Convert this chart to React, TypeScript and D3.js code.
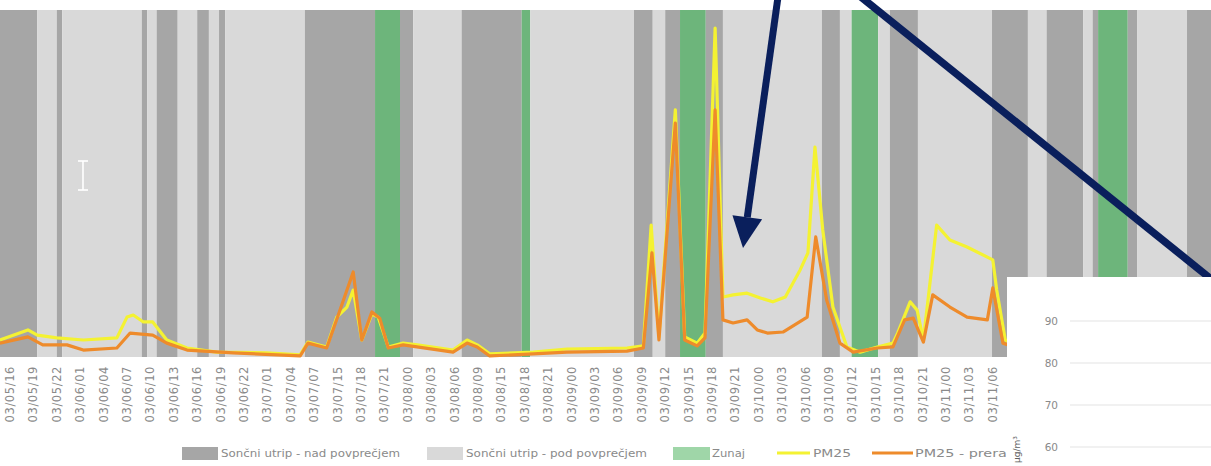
import React from "react";
import * as d3 from "d3";

// ---------- DATA ----------
const xLabels = [
  "03/05/16", "03/05/19", "03/05/22", "03/06/01", "03/06/04", "03/06/07", "03/06/10",
  "03/06/13", "03/06/16", "03/06/19", "03/06/22", "03/07/01", "03/07/04", "03/07/07",
  "03/07/15", "03/07/18", "03/07/21", "03/08/00", "03/08/03", "03/08/06", "03/08/09",
  "03/08/15", "03/08/18", "03/08/21", "03/09/00", "03/09/03", "03/09/06", "03/09/09",
  "03/09/12", "03/09/15", "03/09/18", "03/09/21", "03/10/00", "03/10/03", "03/10/06",
  "03/10/09", "03/10/12", "03/10/15", "03/10/18", "03/10/21", "03/11/00", "03/11/03",
  "03/11/06",
];

// band edges in hours (label every 3 hours)
const bandEdges = [
  -1.5, 3.5, 6.0, 6.7, 16.9, 17.6, 18.8, 21.5, 24.0, 25.5, 26.8, 27.6, 37.8, 46.8, 50.0,
  51.7, 57.9, 65.6, 66.7, 80.0, 82.4, 84.0, 85.9, 89.2, 91.4, 104.1, 106.4, 107.9, 111.3,
  112.8, 116.4, 125.9, 130.5, 132.9, 137.6, 138.8, 139.5, 143.3, 144.5, 150.9, 156,
];
// d = nad povprečjem, l = pod povprečjem, g = zunaj
const bandTypes = [
  "d", "l", "d", "l", "d", "l", "d", "l", "d", "l",
  "d", "l", "d", "g", "d", "l", "d", "g", "l", "d",
  "l", "d", "g", "d", "l", "d", "l", "g", "l", "d",
  "l", "d", "l", "d", "l", "d", "g", "d", "l", "d",
];

const pm25: [number, number][] = [
  [-1.3, 4.9], [2.3, 7.8], [3.5, 6.3], [6.0, 5.5], [9.4, 4.9], [13.7, 5.5], [15.0, 11.5],
  [15.8, 12.1], [17.1, 10.1], [18.3, 10.1], [20.1, 4.9], [22.7, 2.6], [26.5, 1.4],
  [32.9, 1.2], [37.2, 0.6], [38.2, 4.3], [40.6, 2.9], [41.9, 11.5], [43.2, 14.4],
  [44.0, 19.3], [45.1, 4.9], [46.4, 12.4], [47.2, 11.5], [48.5, 2.9], [50.4, 4.0],
  [52.2, 3.5], [56.8, 2.0], [58.6, 4.9], [59.9, 3.5], [61.5, 0.9], [67.1, 1.4],
  [71.4, 2.3], [79.1, 2.6], [81.2, 3.2], [82.2, 38.0], [83.2, 5.8], [85.3, 71.2],
  [86.5, 5.8], [88.1, 4.0], [89.1, 6.9], [90.4, 94.8], [91.4, 17.3], [92.7, 17.9],
  [94.5, 18.4], [96.2, 17.0], [97.8, 15.9], [99.4, 17.3], [101.3, 25.1], [102.3, 30.0],
  [103.2, 60.5], [104.2, 36.6], [105.5, 14.4], [107.3, 2.9], [109.0, 1.4], [111.2, 2.9],
  [113.2, 4.0], [113.8, 6.9], [115.4, 15.9], [116.3, 13.5], [117.1, 4.9], [118.8, 38.0],
  [120.5, 33.7], [122.7, 31.7], [126.0, 28.0], [126.5, 19.3], [127.6, 4.9], [128.8, 3.5],
];

const pm25Corr: [number, number][] = [
  [-1.3, 4.0], [2.3, 5.8], [4.2, 3.5], [7.3, 3.5], [9.4, 2.0], [13.7, 2.6], [15.4, 6.9],
  [18.3, 6.3], [20.1, 4.0], [22.7, 2.0], [28.6, 1.2], [37.2, 0.3], [38.2, 4.0],
  [40.6, 2.6], [42.3, 13.5], [44.0, 24.5], [45.1, 4.9], [46.4, 13.0], [47.4, 11.2],
  [48.5, 2.6], [50.4, 3.5], [56.8, 1.4], [58.6, 4.0], [59.9, 2.9], [61.5, 0.3],
  [67.1, 0.9], [71.4, 1.4], [79.1, 1.7], [81.2, 2.6], [82.3, 30.0], [83.2, 4.9],
  [85.3, 67.4], [86.5, 4.9], [88.1, 3.2], [89.1, 5.5], [90.4, 71.2], [91.4, 10.7],
  [92.7, 9.8], [94.5, 10.7], [95.8, 7.8], [97.1, 6.9], [99.1, 7.2], [102.2, 11.5],
  [103.3, 34.6], [104.7, 16.4], [106.4, 4.0], [108.1, 1.4], [111.2, 2.6], [113.2, 2.9],
  [114.7, 10.7], [115.8, 11.2], [117.1, 4.3], [118.3, 17.9], [120.5, 14.4], [122.7, 11.5],
  [125.3, 10.7], [126.0, 19.9], [127.3, 4.0], [128.8, 2.9],
];

const legendLabels = [
  "Sončni utrip - nad povprečjem",
  "Sončni utrip - pod povprečjem",
  "Zunaj",
  "PM25",
  "PM25 - preračun",
];

const insetTicks = [60, 70, 80, 90];

// ---------- STYLE ----------
const W = 1211;
const H = 466;
const C_DARK = "#a6a6a6";
const C_LIGHT = "#d9d9d9";
const C_GREEN = "#6db57b";
const C_YELLOW = "#f4f232";
const C_ORANGE = "#ee8b2b";
const C_NAVY = "#0a1f5c";
const C_TEXT = "#8a8a8a";
const FONT = "'DejaVu Sans', 'Liberation Sans', sans-serif";

export default function App() {
  const x = d3.scaleLinear().domain([0, 126]).range([10, 10 + 126 * 7.8]);
  const y = d3.scaleLinear().domain([0, 100]).range([357, 10]);
  const yInset = d3.scaleLinear().domain([60, 90]).range([447, 321]);

  const line = d3
    .line<[number, number]>()
    .x((d) => x(d[0]))
    .y((d) => y(d[1]))
    .curve(d3.curveLinear);

  const colorOf = (t: string) => (t === "d" ? C_DARK : t === "l" ? C_LIGHT : C_GREEN);

  // arrow 1 geometry
  const a1Start: [number, number] = [778, -3];
  const a1Tip: [number, number] = [743, 248];
  const dx = a1Tip[0] - a1Start[0];
  const dy = a1Tip[1] - a1Start[1];
  const len = Math.hypot(dx, dy);
  const ux = dx / len, uy = dy / len;
  const headL = 31, headW = 15;
  const bx = a1Tip[0] - ux * headL, by = a1Tip[1] - uy * headL;
  const head = `${a1Tip[0]},${a1Tip[1]} ${bx - uy * headW},${by + ux * headW} ${bx + uy * headW},${by - ux * headW}`;

  return (
    <svg
      width={W}
      height={H}
      style={{ position: "absolute", left: 0, top: 0, background: "#fff" }}
      fontFamily={FONT}
    >
      <rect x={0} y={0} width={W} height={H} fill="#fff" />
      {/* background bands */}
      <g>
        {bandTypes.map((t, i) => {
          const x0 = Math.max(0, x(bandEdges[i]));
          const x1 = Math.min(W, x(bandEdges[i + 1]));
          return (
            <rect key={i} x={x0} y={y(100)} width={Math.max(0, x1 - x0)} height={y(0) - y(100)} fill={colorOf(t)} />
          );
        })}
      </g>

      {/* text cursor icon */}
      <g stroke="#fff" strokeWidth={1.6} fill="none">
        <line x1={83} y1={161} x2={83} y2={190} />
        <line x1={78} y1={161} x2={88} y2={161} />
        <line x1={78} y1={190} x2={88} y2={190} />
      </g>

      {/* series */}
      <path d={line(pm25) ?? ""} fill="none" stroke={C_YELLOW} strokeWidth={3.2} strokeLinejoin="round" />
      <path d={line(pm25Corr) ?? ""} fill="none" stroke={C_ORANGE} strokeWidth={3.2} strokeLinejoin="round" />

      {/* x labels */}
      <g fill={C_TEXT} fontSize={11.5} letterSpacing={0.6}>
        {xLabels.map((l, i) => (
          <text key={l + i} transform={`translate(${x(i * 3) + 4},366) rotate(-90)`} textAnchor="end">
            {l}
          </text>
        ))}
      </g>

      {/* legend */}
      <g fill={C_TEXT} fontSize={11}>
        <rect x={182} y={447} width={36} height={13} fill={C_DARK} />
        <text x={221} y={457} textLength={179} lengthAdjust="spacingAndGlyphs">{legendLabels[0]}</text>
        <rect x={427} y={447} width={36} height={13} fill={C_LIGHT} />
        <text x={466} y={457} textLength={181} lengthAdjust="spacingAndGlyphs">{legendLabels[1]}</text>
        <rect x={673} y={447} width={37} height={13} fill="#9fd6a8" />
        <text x={712} y={457} textLength={33} lengthAdjust="spacingAndGlyphs">{legendLabels[2]}</text>
        <line x1={777} y1={453} x2={810} y2={453} stroke={C_YELLOW} strokeWidth={3} />
        <text x={813} y={457} textLength={38} lengthAdjust="spacingAndGlyphs">{legendLabels[3]}</text>
        <line x1={872} y1={453} x2={913} y2={453} stroke={C_ORANGE} strokeWidth={3} />
        <text x={915} y={457} textLength={118} lengthAdjust="spacingAndGlyphs">{legendLabels[4]}</text>
      </g>

      {/* arrows */}
      <line x1={a1Start[0]} y1={a1Start[1]} x2={bx} y2={by} stroke={C_NAVY} strokeWidth={7} />
      <polygon points={head} fill={C_NAVY} />
      <line x1={861} y1={-3} x2={1216} y2={283} stroke={C_NAVY} strokeWidth={7.5} />

      {/* inset chart */}
      <g>
        <rect x={1007} y={277} width={W - 1007} height={H - 277} fill="#fff" />
        {insetTicks.map((t) => (
          <g key={t}>
            <line x1={1070} x2={W} y1={yInset(t)} y2={yInset(t)} stroke="#e3e3e3" strokeWidth={1} />
            <text x={1058} y={yInset(t) + 3.5} textAnchor="end" fontSize={10.5} fill={C_TEXT}>
              {t}
            </text>
          </g>
        ))}
        <text transform="translate(1020,463) rotate(-90)" textAnchor="start" fontSize={9} fill="#606060">
          µg/m³
        </text>
      </g>
    </svg>
  );
}
